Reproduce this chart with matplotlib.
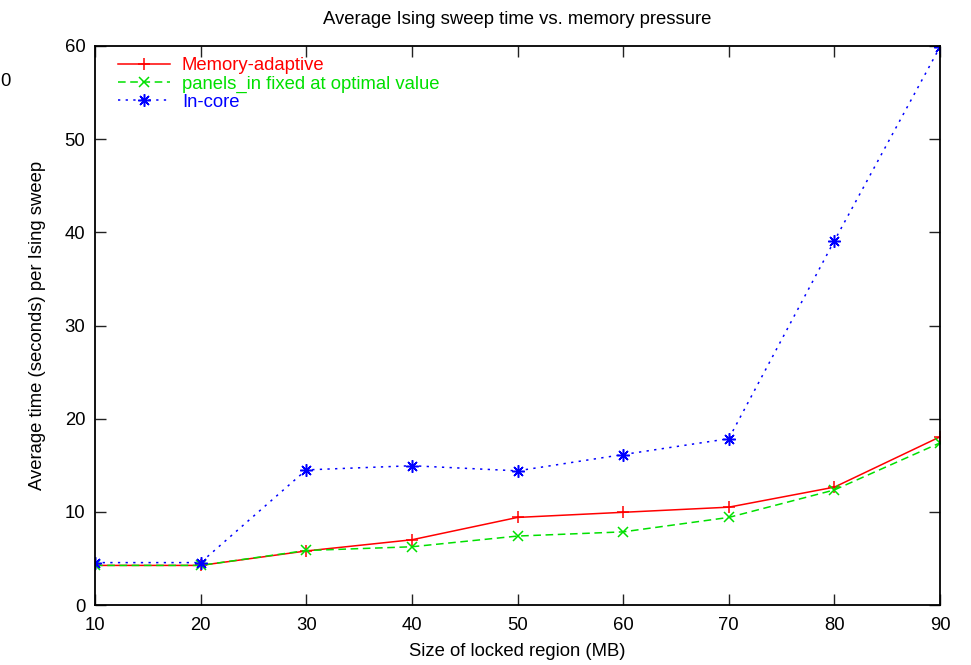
import matplotlib
matplotlib.use("Agg")
import matplotlib.pyplot as plt

plt.rcParams['font.family'] = ['Liberation Sans', 'DejaVu Sans']

# Locked region size (MB)
region_mb = [10, 20, 30, 40, 50, 60, 70, 80, 90]

# Average time per Ising sweep (seconds)
memory_adaptive = [4.25, 4.25, 5.8, 7.0, 9.4, 9.95, 10.5, 12.65, 18.05]
panels_fixed = [4.25, 4.25, 5.85, 6.25, 7.4, 7.85, 9.4, 12.35, 17.4]
in_core = [4.55, 4.55, 14.5, 14.95, 14.4, 16.15, 17.85, 39.1, 59.9]

series_labels = ["Memory-adaptive", "panels_in fixed at optimal value", "In-core"]
x_ticks = [10, 20, 30, 40, 50, 60, 70, 80, 90]
y_ticks = [0, 10, 20, 30, 40, 50, 60]

FS = 13.3
W, H = 971, 665
fig = plt.figure(figsize=(W / 100, H / 100), dpi=100)
ax = fig.add_axes([95 / W, (H - 605) / H, (940 - 95) / W, (605 - 46) / H])

red, green, blue = '#ff0000', '#00e000', '#0000ff'
ax.plot(region_mb, memory_adaptive, color=red, lw=1.1, ls='-',
        marker='+', ms=9, mew=1.1, label=series_labels[0])
ax.plot(region_mb, panels_fixed, color=green, lw=1.1, ls=(0, (5, 3)),
        marker='x', ms=7, mew=1.1, label=series_labels[1])
ax.plot(region_mb, in_core, color=blue, lw=1.1, ls=(0, (1.5, 3.5)),
        marker=(8, 2, 0), ms=9, mew=1.1, label=series_labels[2])

ax.set_xlim(10, 90)
ax.set_ylim(0, 60)
ax.set_xticks(x_ticks)
ax.set_yticks(y_ticks)
ax.tick_params(direction='in', length=8, width=1, top=True, right=True,
               labelsize=FS, color='#222222')
ax.tick_params(axis='x', pad=9)
ax.tick_params(axis='y', pad=7)
for sp in ax.spines.values():
    sp.set_linewidth(1.3)

ax.set_title("Average Ising sweep time vs. memory pressure", fontsize=FS, pad=16)
ax.set_xlabel("Size of locked region (MB)", fontsize=FS, labelpad=6)
ax.set_ylabel("Average time (seconds) per Ising sweep", fontsize=FS, labelpad=13)

leg = ax.legend(loc='upper left', frameon=False, fontsize=FS, numpoints=1,
                handlelength=2.8, handletextpad=0.65, labelspacing=0.06,
                borderaxespad=0.3, labelcolor='linecolor',
                bbox_to_anchor=(0.012, 1.003))

fig.text(0.0, 1 - 82 / H, "0", fontsize=FS, ha='left', va='center')

fig.savefig("out.png", dpi=100)
